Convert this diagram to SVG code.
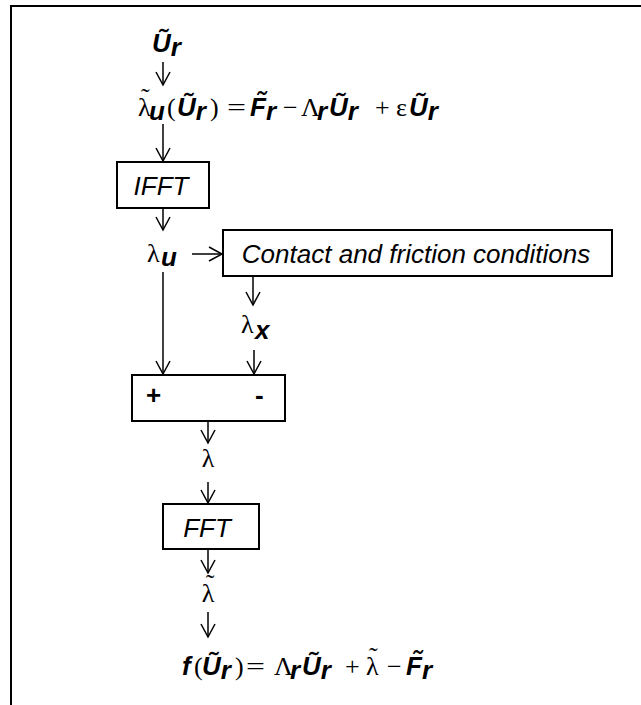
<svg xmlns="http://www.w3.org/2000/svg" width="641" height="705" viewBox="0 0 641 705">
<style>
.v{font-family:"Liberation Sans",Arial,sans-serif;font-weight:bold;font-style:italic;font-size:26px;fill:#000}
.g{font-family:"Liberation Serif","Times New Roman",serif;font-size:26px;fill:#000}
.lbl{font-family:"Liberation Sans",Arial,sans-serif;font-style:italic;font-size:26px;fill:#000}
.b{font-family:"Liberation Sans",Arial,sans-serif;font-weight:bold;font-size:26px;fill:#000}
.box{fill:#fff;stroke:#000;stroke-width:2}
.c{fill:none;stroke:#000;stroke-width:1.5}
</style>
<defs>
<marker id="ah" markerUnits="userSpaceOnUse" markerWidth="16" markerHeight="16" viewBox="-14 -8 16 16" refX="0" refY="0" orient="auto">
<polyline points="-13,-7 0,0 -13,7" fill="none" stroke="#000" stroke-width="1.5"/>
</marker>
</defs>
<rect width="641" height="705" fill="#fff"/>
<path d="M641,6 H11 V705" fill="none" stroke="#000" stroke-width="2"/>

<g id="connectors">
<line class="c" x1="163" y1="62" x2="163" y2="85" marker-end="url(#ah)"/>
<line class="c" x1="163" y1="124" x2="163" y2="161" marker-end="url(#ah)"/>
<line class="c" x1="163" y1="208" x2="163" y2="230" marker-end="url(#ah)"/>
<line class="c" x1="192" y1="254" x2="222" y2="254" marker-end="url(#ah)"/>
<line class="c" x1="253" y1="276" x2="253" y2="305" marker-end="url(#ah)"/>
<line class="c" x1="163" y1="272" x2="163" y2="374" marker-end="url(#ah)"/>
<line class="c" x1="254" y1="350" x2="254" y2="374" marker-end="url(#ah)"/>
<line class="c" x1="208" y1="421" x2="208" y2="443" marker-end="url(#ah)"/>
<line class="c" x1="208" y1="482" x2="208" y2="503" marker-end="url(#ah)"/>
<line class="c" x1="208" y1="549" x2="208" y2="573" marker-end="url(#ah)"/>
<line class="c" x1="208" y1="612" x2="208" y2="637" marker-end="url(#ah)"/>
</g>

<g id="input">
<text class="v" x="152" y="52">Ũ<tspan dy="4">r</tspan></text>
</g>

<g id="eq1">
<text class="g" x="138" y="116">λ</text>
<text class="g" x="141" y="106" font-size="22">˜</text>
<text class="v" x="149" y="120" font-size="24">u</text>
<text class="g" x="167" y="116">(</text>
<text class="v" x="177" y="116">Ũ<tspan dy="4">r</tspan></text>
<text class="g" x="210" y="116">)</text>
<text class="g" x="227" y="116" textLength="19" lengthAdjust="spacingAndGlyphs">=</text>
<text class="v" x="250" y="116">F</text>
<text class="v" x="256" y="110">˜</text>
<text class="v" x="266" y="120">r</text>
<text class="g" x="283" y="116">−</text>
<text class="g" x="301" y="116">Λ</text>
<text class="v" x="317" y="120">r</text>
<text class="v" x="329" y="116">Ũ<tspan dy="4">r</tspan></text>
<text class="g" x="375" y="116">+</text>
<text class="g" x="396" y="116">ε</text>
<text class="v" x="409" y="116">Ũ<tspan dy="4">r</tspan></text>
</g>

<g id="ifft">
<rect class="box" x="117" y="162" width="92" height="46"/>
<text class="lbl" x="161" y="195" text-anchor="middle">IFFT</text>
</g>

<g id="lambda_u">
<text class="g" x="147" y="262">λ</text>
<text class="v" x="161" y="266" font-size="24">u</text>
</g>

<g id="contact">
<rect class="box" x="223" y="230" width="389" height="46"/>
<text class="lbl" x="416" y="263" text-anchor="middle">Contact and friction conditions</text>
</g>

<g id="lambda_x">
<text class="g" x="241" y="333">λ</text>
<text class="v" x="255" y="339" font-size="24">x</text>
</g>

<g id="sum">
<rect class="box" x="132" y="375" width="153" height="46"/>
<text class="b" x="146" y="404">+</text>
<text class="b" x="255" y="404">-</text>
</g>

<g id="lambda">
<text class="g" x="208" y="467" text-anchor="middle">λ</text>
</g>

<g id="fft">
<rect class="box" x="163" y="504" width="96" height="45"/>
<text class="lbl" x="207" y="537" text-anchor="middle">FFT</text>
</g>

<g id="lambda_tilde">
<text class="g" x="208" y="602" text-anchor="middle">λ</text>
<text class="g" x="210" y="592" text-anchor="middle" font-size="22">˜</text>
</g>

<g id="eq2">
<text class="v" x="182" y="675">f</text>
<text class="g" x="194" y="675">(</text>
<text class="v" x="202" y="675">Ũ<tspan dy="4">r</tspan></text>
<text class="g" x="235" y="675">)</text>
<text class="g" x="246" y="675" textLength="19" lengthAdjust="spacingAndGlyphs">=</text>
<text class="g" x="274" y="675">Λ</text>
<text class="v" x="290" y="679">r</text>
<text class="v" x="302" y="675">Ũ<tspan dy="4">r</tspan></text>
<text class="g" x="345" y="675">+</text>
<text class="g" x="366" y="675">λ</text>
<text class="g" x="369" y="665" font-size="22">˜</text>
<text class="g" x="387" y="675">−</text>
<text class="v" x="406" y="675">F</text>
<text class="v" x="412" y="669">˜</text>
<text class="v" x="422" y="679">r</text>
</g>
</svg>
